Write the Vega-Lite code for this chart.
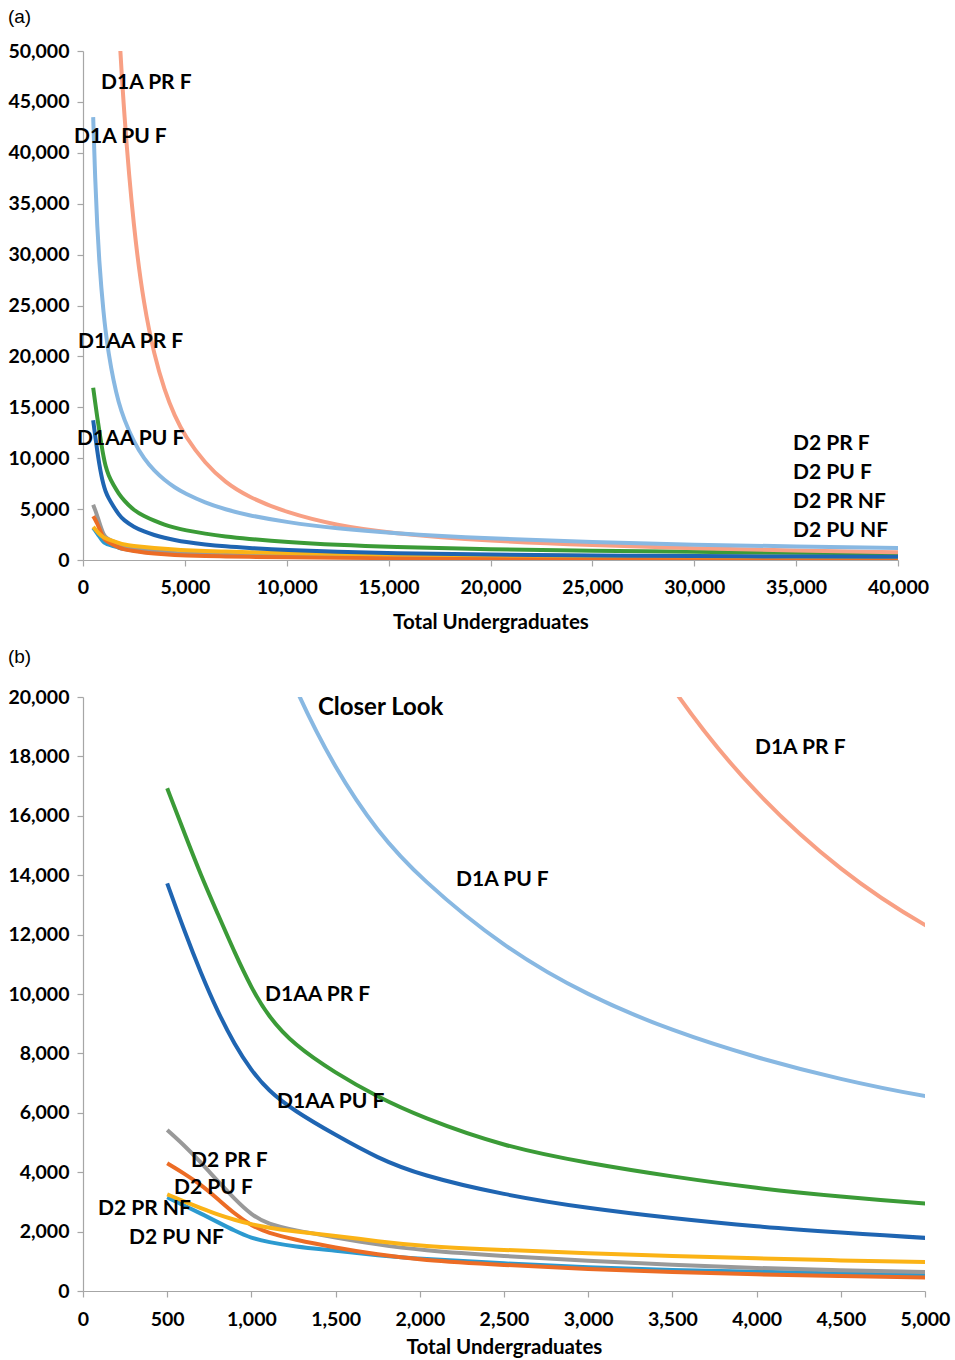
{
  "$schema": "https://vega.github.io/schema/vega-lite/v6.json",
  "background": "white",
  "padding": {"left": 7, "top": 8, "right": 5, "bottom": 5},
  "spacing": 15,
  "config": {
    "font": "Lato",
    "view": {"stroke": null},
    "axis": {
      "grid": false,
      "domainColor": "#A6A6A6",
      "domainWidth": 1.2,
      "tickColor": "#A6A6A6",
      "tickWidth": 1.2,
      "tickSize": 6,
      "labelFont": "Lato",
      "labelFontWeight": "bold",
      "labelFontSize": 19.5,
      "labelColor": "#000000",
      "titleFont": "Lato",
      "titleFontWeight": "bold",
      "titleFontSize": 20.5,
      "titleColor": "#000000"
    },
    "title": {"font": "Liberation Sans", "fontWeight": "normal", "fontSize": 19, "color": "#000000", "anchor": "start", "frame": "bounds"}
  },
  "datasets": {
    "curves": [
      {"series": "D2 PU NF", "undergrads": 500, "value": 3155},
      {"series": "D2 PU NF", "undergrads": 600, "value": 2880},
      {"series": "D2 PU NF", "undergrads": 700, "value": 2610},
      {"series": "D2 PU NF", "undergrads": 800, "value": 2320},
      {"series": "D2 PU NF", "undergrads": 900, "value": 2030},
      {"series": "D2 PU NF", "undergrads": 1000, "value": 1780},
      {"series": "D2 PU NF", "undergrads": 1100, "value": 1650},
      {"series": "D2 PU NF", "undergrads": 1250, "value": 1500},
      {"series": "D2 PU NF", "undergrads": 1500, "value": 1360},
      {"series": "D2 PU NF", "undergrads": 1750, "value": 1200},
      {"series": "D2 PU NF", "undergrads": 2000, "value": 1080},
      {"series": "D2 PU NF", "undergrads": 2500, "value": 930},
      {"series": "D2 PU NF", "undergrads": 3000, "value": 785},
      {"series": "D2 PU NF", "undergrads": 3500, "value": 707},
      {"series": "D2 PU NF", "undergrads": 4000, "value": 650},
      {"series": "D2 PU NF", "undergrads": 4500, "value": 590},
      {"series": "D2 PU NF", "undergrads": 5000, "value": 539},
      {"series": "D2 PU NF", "undergrads": 6000, "value": 480},
      {"series": "D2 PU NF", "undergrads": 7000, "value": 430},
      {"series": "D2 PU NF", "undergrads": 8000, "value": 395},
      {"series": "D2 PU NF", "undergrads": 10000, "value": 340},
      {"series": "D2 PU NF", "undergrads": 12500, "value": 290},
      {"series": "D2 PU NF", "undergrads": 15000, "value": 255},
      {"series": "D2 PU NF", "undergrads": 20000, "value": 205},
      {"series": "D2 PU NF", "undergrads": 25000, "value": 175},
      {"series": "D2 PU NF", "undergrads": 30000, "value": 155},
      {"series": "D2 PU NF", "undergrads": 35000, "value": 140},
      {"series": "D2 PU NF", "undergrads": 40000, "value": 130},

      {"series": "D2 PR F", "undergrads": 500, "value": 5421},
      {"series": "D2 PR F", "undergrads": 600, "value": 4910},
      {"series": "D2 PR F", "undergrads": 700, "value": 4330},
      {"series": "D2 PR F", "undergrads": 800, "value": 3700},
      {"series": "D2 PR F", "undergrads": 900, "value": 3100},
      {"series": "D2 PR F", "undergrads": 1000, "value": 2560},
      {"series": "D2 PR F", "undergrads": 1100, "value": 2250},
      {"series": "D2 PR F", "undergrads": 1250, "value": 2050},
      {"series": "D2 PR F", "undergrads": 1500, "value": 1800},
      {"series": "D2 PR F", "undergrads": 1750, "value": 1560},
      {"series": "D2 PR F", "undergrads": 2000, "value": 1380},
      {"series": "D2 PR F", "undergrads": 2500, "value": 1170},
      {"series": "D2 PR F", "undergrads": 3000, "value": 1010},
      {"series": "D2 PR F", "undergrads": 3500, "value": 880},
      {"series": "D2 PR F", "undergrads": 4000, "value": 770},
      {"series": "D2 PR F", "undergrads": 4500, "value": 695},
      {"series": "D2 PR F", "undergrads": 5000, "value": 630},
      {"series": "D2 PR F", "undergrads": 6000, "value": 560},
      {"series": "D2 PR F", "undergrads": 7000, "value": 500},
      {"series": "D2 PR F", "undergrads": 8000, "value": 460},
      {"series": "D2 PR F", "undergrads": 10000, "value": 390},
      {"series": "D2 PR F", "undergrads": 12500, "value": 330},
      {"series": "D2 PR F", "undergrads": 15000, "value": 290},
      {"series": "D2 PR F", "undergrads": 20000, "value": 230},
      {"series": "D2 PR F", "undergrads": 25000, "value": 200},
      {"series": "D2 PR F", "undergrads": 30000, "value": 175},
      {"series": "D2 PR F", "undergrads": 35000, "value": 160},
      {"series": "D2 PR F", "undergrads": 40000, "value": 145},

      {"series": "D2 PU F", "undergrads": 500, "value": 4300},
      {"series": "D2 PU F", "undergrads": 600, "value": 3960},
      {"series": "D2 PU F", "undergrads": 700, "value": 3580},
      {"series": "D2 PU F", "undergrads": 800, "value": 3100},
      {"series": "D2 PU F", "undergrads": 900, "value": 2600},
      {"series": "D2 PU F", "undergrads": 1000, "value": 2200},
      {"series": "D2 PU F", "undergrads": 1100, "value": 1950},
      {"series": "D2 PU F", "undergrads": 1250, "value": 1738},
      {"series": "D2 PU F", "undergrads": 1500, "value": 1460},
      {"series": "D2 PU F", "undergrads": 1750, "value": 1225},
      {"series": "D2 PU F", "undergrads": 2000, "value": 1044},
      {"series": "D2 PU F", "undergrads": 2500, "value": 875},
      {"series": "D2 PU F", "undergrads": 3000, "value": 730},
      {"series": "D2 PU F", "undergrads": 3500, "value": 640},
      {"series": "D2 PU F", "undergrads": 4000, "value": 560},
      {"series": "D2 PU F", "undergrads": 4500, "value": 500},
      {"series": "D2 PU F", "undergrads": 5000, "value": 450},
      {"series": "D2 PU F", "undergrads": 6000, "value": 390},
      {"series": "D2 PU F", "undergrads": 7000, "value": 345},
      {"series": "D2 PU F", "undergrads": 8000, "value": 310},
      {"series": "D2 PU F", "undergrads": 10000, "value": 260},
      {"series": "D2 PU F", "undergrads": 12500, "value": 215},
      {"series": "D2 PU F", "undergrads": 15000, "value": 185},
      {"series": "D2 PU F", "undergrads": 20000, "value": 145},
      {"series": "D2 PU F", "undergrads": 25000, "value": 120},
      {"series": "D2 PU F", "undergrads": 30000, "value": 105},
      {"series": "D2 PU F", "undergrads": 35000, "value": 95},
      {"series": "D2 PU F", "undergrads": 40000, "value": 85},

      {"series": "D2 PR NF", "undergrads": 500, "value": 3256},
      {"series": "D2 PR NF", "undergrads": 600, "value": 3018},
      {"series": "D2 PR NF", "undergrads": 700, "value": 2790},
      {"series": "D2 PR NF", "undergrads": 800, "value": 2573},
      {"series": "D2 PR NF", "undergrads": 900, "value": 2394},
      {"series": "D2 PR NF", "undergrads": 1000, "value": 2247},
      {"series": "D2 PR NF", "undergrads": 1100, "value": 2133},
      {"series": "D2 PR NF", "undergrads": 1250, "value": 2009},
      {"series": "D2 PR NF", "undergrads": 1500, "value": 1861},
      {"series": "D2 PR NF", "undergrads": 1750, "value": 1671},
      {"series": "D2 PR NF", "undergrads": 2000, "value": 1515},
      {"series": "D2 PR NF", "undergrads": 2500, "value": 1380},
      {"series": "D2 PR NF", "undergrads": 3000, "value": 1268},
      {"series": "D2 PR NF", "undergrads": 3500, "value": 1178},
      {"series": "D2 PR NF", "undergrads": 4000, "value": 1100},
      {"series": "D2 PR NF", "undergrads": 4500, "value": 1030},
      {"series": "D2 PR NF", "undergrads": 5000, "value": 966},
      {"series": "D2 PR NF", "undergrads": 6000, "value": 890},
      {"series": "D2 PR NF", "undergrads": 7000, "value": 830},
      {"series": "D2 PR NF", "undergrads": 8000, "value": 780},
      {"series": "D2 PR NF", "undergrads": 10000, "value": 690},
      {"series": "D2 PR NF", "undergrads": 12500, "value": 610},
      {"series": "D2 PR NF", "undergrads": 15000, "value": 550},
      {"series": "D2 PR NF", "undergrads": 20000, "value": 460},
      {"series": "D2 PR NF", "undergrads": 25000, "value": 400},
      {"series": "D2 PR NF", "undergrads": 30000, "value": 360},
      {"series": "D2 PR NF", "undergrads": 35000, "value": 330},
      {"series": "D2 PR NF", "undergrads": 40000, "value": 300},

      {"series": "D1AA PR F", "undergrads": 500, "value": 16926},
      {"series": "D1AA PR F", "undergrads": 600, "value": 15450},
      {"series": "D1AA PR F", "undergrads": 700, "value": 14000},
      {"series": "D1AA PR F", "undergrads": 800, "value": 12700},
      {"series": "D1AA PR F", "undergrads": 900, "value": 11400},
      {"series": "D1AA PR F", "undergrads": 1000, "value": 10200},
      {"series": "D1AA PR F", "undergrads": 1100, "value": 9250},
      {"series": "D1AA PR F", "undergrads": 1250, "value": 8300},
      {"series": "D1AA PR F", "undergrads": 1500, "value": 7332},
      {"series": "D1AA PR F", "undergrads": 1750, "value": 6533},
      {"series": "D1AA PR F", "undergrads": 2000, "value": 5870},
      {"series": "D1AA PR F", "undergrads": 2500, "value": 4859},
      {"series": "D1AA PR F", "undergrads": 3000, "value": 4300},
      {"series": "D1AA PR F", "undergrads": 3500, "value": 3849},
      {"series": "D1AA PR F", "undergrads": 4000, "value": 3457},
      {"series": "D1AA PR F", "undergrads": 4500, "value": 3176},
      {"series": "D1AA PR F", "undergrads": 5000, "value": 2929},
      {"series": "D1AA PR F", "undergrads": 6000, "value": 2580},
      {"series": "D1AA PR F", "undergrads": 7000, "value": 2300},
      {"series": "D1AA PR F", "undergrads": 8000, "value": 2090},
      {"series": "D1AA PR F", "undergrads": 10000, "value": 1760},
      {"series": "D1AA PR F", "undergrads": 12500, "value": 1480},
      {"series": "D1AA PR F", "undergrads": 15000, "value": 1290},
      {"series": "D1AA PR F", "undergrads": 20000, "value": 1050},
      {"series": "D1AA PR F", "undergrads": 25000, "value": 900},
      {"series": "D1AA PR F", "undergrads": 30000, "value": 800},
      {"series": "D1AA PR F", "undergrads": 35000, "value": 720},
      {"series": "D1AA PR F", "undergrads": 40000, "value": 660},

      {"series": "D1AA PU F", "undergrads": 500, "value": 13727},
      {"series": "D1AA PU F", "undergrads": 600, "value": 12150},
      {"series": "D1AA PU F", "undergrads": 700, "value": 10700},
      {"series": "D1AA PU F", "undergrads": 800, "value": 9400},
      {"series": "D1AA PU F", "undergrads": 900, "value": 8300},
      {"series": "D1AA PU F", "undergrads": 1000, "value": 7420},
      {"series": "D1AA PU F", "undergrads": 1100, "value": 6750},
      {"series": "D1AA PU F", "undergrads": 1250, "value": 6080},
      {"series": "D1AA PU F", "undergrads": 1500, "value": 5250},
      {"series": "D1AA PU F", "undergrads": 1750, "value": 4475},
      {"series": "D1AA PU F", "undergrads": 2000, "value": 3906},
      {"series": "D1AA PU F", "undergrads": 2500, "value": 3232},
      {"series": "D1AA PU F", "undergrads": 3000, "value": 2784},
      {"series": "D1AA PU F", "undergrads": 3500, "value": 2447},
      {"series": "D1AA PU F", "undergrads": 4000, "value": 2166},
      {"series": "D1AA PU F", "undergrads": 4500, "value": 1964},
      {"series": "D1AA PU F", "undergrads": 5000, "value": 1774},
      {"series": "D1AA PU F", "undergrads": 6000, "value": 1520},
      {"series": "D1AA PU F", "undergrads": 7000, "value": 1340},
      {"series": "D1AA PU F", "undergrads": 8000, "value": 1200},
      {"series": "D1AA PU F", "undergrads": 10000, "value": 970},
      {"series": "D1AA PU F", "undergrads": 12500, "value": 800},
      {"series": "D1AA PU F", "undergrads": 15000, "value": 680},
      {"series": "D1AA PU F", "undergrads": 20000, "value": 530},
      {"series": "D1AA PU F", "undergrads": 25000, "value": 440},
      {"series": "D1AA PU F", "undergrads": 30000, "value": 380},
      {"series": "D1AA PU F", "undergrads": 35000, "value": 340},
      {"series": "D1AA PU F", "undergrads": 40000, "value": 310},

      {"series": "D1A PR F", "undergrads": 1750, "value": 53000},
      {"series": "D1A PR F", "undergrads": 2000, "value": 44000},
      {"series": "D1A PR F", "undergrads": 2500, "value": 32200},
      {"series": "D1A PR F", "undergrads": 3000, "value": 24900},
      {"series": "D1A PR F", "undergrads": 3500, "value": 20090},
      {"series": "D1A PR F", "undergrads": 4000, "value": 16660},
      {"series": "D1A PR F", "undergrads": 4500, "value": 14130},
      {"series": "D1A PR F", "undergrads": 5000, "value": 12189},
      {"series": "D1A PR F", "undergrads": 6000, "value": 9450},
      {"series": "D1A PR F", "undergrads": 7000, "value": 7600},
      {"series": "D1A PR F", "undergrads": 8000, "value": 6310},
      {"series": "D1A PR F", "undergrads": 10000, "value": 4620},
      {"series": "D1A PR F", "undergrads": 12500, "value": 3380},
      {"series": "D1A PR F", "undergrads": 15000, "value": 2650},
      {"series": "D1A PR F", "undergrads": 20000, "value": 1850},
      {"series": "D1A PR F", "undergrads": 25000, "value": 1450},
      {"series": "D1A PR F", "undergrads": 30000, "value": 1150},
      {"series": "D1A PR F", "undergrads": 35000, "value": 930},
      {"series": "D1A PR F", "undergrads": 40000, "value": 770},

      {"series": "D1A PU F", "undergrads": 500, "value": 43500},
      {"series": "D1A PU F", "undergrads": 600, "value": 37200},
      {"series": "D1A PU F", "undergrads": 700, "value": 32700},
      {"series": "D1A PU F", "undergrads": 800, "value": 29300},
      {"series": "D1A PU F", "undergrads": 900, "value": 26700},
      {"series": "D1A PU F", "undergrads": 1000, "value": 24500},
      {"series": "D1A PU F", "undergrads": 1100, "value": 22600},
      {"series": "D1A PU F", "undergrads": 1250, "value": 20350},
      {"series": "D1A PU F", "undergrads": 1500, "value": 17540},
      {"series": "D1A PU F", "undergrads": 1750, "value": 15450},
      {"series": "D1A PU F", "undergrads": 2000, "value": 13900},
      {"series": "D1A PU F", "undergrads": 2500, "value": 11550},
      {"series": "D1A PU F", "undergrads": 3000, "value": 9930},
      {"series": "D1A PU F", "undergrads": 3500, "value": 8750},
      {"series": "D1A PU F", "undergrads": 4000, "value": 7850},
      {"series": "D1A PU F", "undergrads": 4500, "value": 7120},
      {"series": "D1A PU F", "undergrads": 5000, "value": 6532},
      {"series": "D1A PU F", "undergrads": 6000, "value": 5620},
      {"series": "D1A PU F", "undergrads": 7000, "value": 4960},
      {"series": "D1A PU F", "undergrads": 8000, "value": 4440},
      {"series": "D1A PU F", "undergrads": 10000, "value": 3700},
      {"series": "D1A PU F", "undergrads": 12500, "value": 3080},
      {"series": "D1A PU F", "undergrads": 15000, "value": 2650},
      {"series": "D1A PU F", "undergrads": 20000, "value": 2090},
      {"series": "D1A PU F", "undergrads": 25000, "value": 1740},
      {"series": "D1A PU F", "undergrads": 30000, "value": 1500},
      {"series": "D1A PU F", "undergrads": 35000, "value": 1320},
      {"series": "D1A PU F", "undergrads": 40000, "value": 1180}
    ],
    "labels": [
      {"panel": "a", "label": "D1A PR F", "undergrads": 883, "value": 46860, "big": false},
      {"panel": "a", "label": "D1A PU F", "undergrads": -442, "value": 41550, "big": false},
      {"panel": "a", "label": "D1AA PR F", "undergrads": -245, "value": 21415, "big": false},
      {"panel": "a", "label": "D1AA PU F", "undergrads": -294, "value": 11886, "big": false},
      {"panel": "a", "label": "D2 PR F", "undergrads": 34847, "value": 11395, "big": false},
      {"panel": "a", "label": "D2 PU F", "undergrads": 34847, "value": 8546, "big": false},
      {"panel": "a", "label": "D2 PR NF", "undergrads": 34847, "value": 5697, "big": false},
      {"panel": "a", "label": "D2 PU NF", "undergrads": 34847, "value": 2849, "big": false},
      {"panel": "b", "label": "Closer Look", "undergrads": 1395, "value": 19630, "big": true},
      {"panel": "b", "label": "D1A PR F", "undergrads": 3990, "value": 18283, "big": false},
      {"panel": "b", "label": "D1A PU F", "undergrads": 2215, "value": 13838, "big": false},
      {"panel": "b", "label": "D1AA PR F", "undergrads": 1081, "value": 9966, "big": false},
      {"panel": "b", "label": "D1AA PU F", "undergrads": 1152, "value": 6364, "big": false},
      {"panel": "b", "label": "D2 PR F", "undergrads": 641, "value": 4377, "big": false},
      {"panel": "b", "label": "D2 PU F", "undergrads": 540, "value": 3468, "big": false},
      {"panel": "b", "label": "D2 PR NF", "undergrads": 89, "value": 2761, "big": false},
      {"panel": "b", "label": "D2 PU NF", "undergrads": 273, "value": 1785, "big": false}
    ]
  },
  "vconcat": [
    {
      "width": 815,
      "height": 509,
      "title": {"text": "(a)", "offset": 14},
      "layer": [
        {
          "data": {"name": "curves"},
          "mark": {"type": "line", "strokeWidth": 4, "interpolate": "basis", "clip": true},
          "encoding": {
            "x": {"field": "undergrads", "type": "quantitative", "scale": {"domain": [0, 40000]},
                  "axis": {"title": "Total Undergraduates", "values": [0, 5000, 10000, 15000, 20000, 25000, 30000, 35000, 40000], "format": ",.0f", "labelPadding": 12, "titlePadding": 16, "labelFlush": false}},
            "y": {"field": "value", "type": "quantitative", "scale": {"domain": [0, 50000]},
                  "axis": {"title": null, "values": [0, 5000, 10000, 15000, 20000, 25000, 30000, 35000, 40000, 45000, 50000], "format": ",.0f", "labelPadding": 8}},
            "color": {"field": "series", "type": "nominal", "legend": null,
                      "scale": {"domain": ["D1A PR F", "D1A PU F", "D1AA PR F", "D1AA PU F", "D2 PR F", "D2 PU F", "D2 PR NF", "D2 PU NF"],
                                "range": ["#F8A084", "#88B8E2", "#3B9B37", "#1F65B2", "#999999", "#EC6C25", "#FBB316", "#2C9AD0"]}}
          }
        },
        {
          "data": {"name": "labels"},
          "transform": [{"filter": "datum.panel == 'a'"}],
          "mark": {"type": "text", "align": "left", "baseline": "middle", "font": "Lato", "fontWeight": "bold", "fontSize": 21, "color": "#000000"},
          "encoding": {
            "x": {"field": "undergrads", "type": "quantitative"},
            "y": {"field": "value", "type": "quantitative"},
            "text": {"field": "label"}
          }
        }
      ]
    },
    {
      "width": 842,
      "height": 594,
      "title": {"text": "(b)", "offset": 20},
      "layer": [
        {
          "data": {"name": "curves"},
          "transform": [{"filter": "datum.undergrads <= 6000"}],
          "mark": {"type": "line", "strokeWidth": 4, "interpolate": "basis", "clip": true},
          "encoding": {
            "x": {"field": "undergrads", "type": "quantitative", "scale": {"domain": [0, 5000]},
                  "axis": {"title": "Total Undergraduates", "values": [0, 500, 1000, 1500, 2000, 2500, 3000, 3500, 4000, 4500, 5000], "format": ",.0f", "labelPadding": 13, "titlePadding": 9, "labelFlush": false}},
            "y": {"field": "value", "type": "quantitative", "scale": {"domain": [0, 20000]},
                  "axis": {"title": null, "values": [0, 2000, 4000, 6000, 8000, 10000, 12000, 14000, 16000, 18000, 20000], "format": ",.0f", "labelPadding": 8}},
            "color": {"field": "series", "type": "nominal", "legend": null,
                      "scale": {"domain": ["D1A PR F", "D1A PU F", "D1AA PR F", "D1AA PU F", "D2 PR F", "D2 PU F", "D2 PR NF", "D2 PU NF"],
                                "range": ["#F8A084", "#88B8E2", "#3B9B37", "#1F65B2", "#999999", "#EC6C25", "#FBB316", "#2C9AD0"]}}
          }
        },
        {
          "data": {"name": "labels"},
          "transform": [{"filter": "datum.panel == 'b'"}],
          "mark": {"type": "text", "align": "left", "baseline": "middle", "font": "Lato", "fontWeight": "bold", "color": "#000000"},
          "encoding": {
            "x": {"field": "undergrads", "type": "quantitative"},
            "y": {"field": "value", "type": "quantitative"},
            "text": {"field": "label"},
            "size": {"field": "big", "type": "nominal", "legend": null, "scale": {"domain": [false, true], "range": [21, 24]}}
          }
        }
      ]
    }
  ]
}
